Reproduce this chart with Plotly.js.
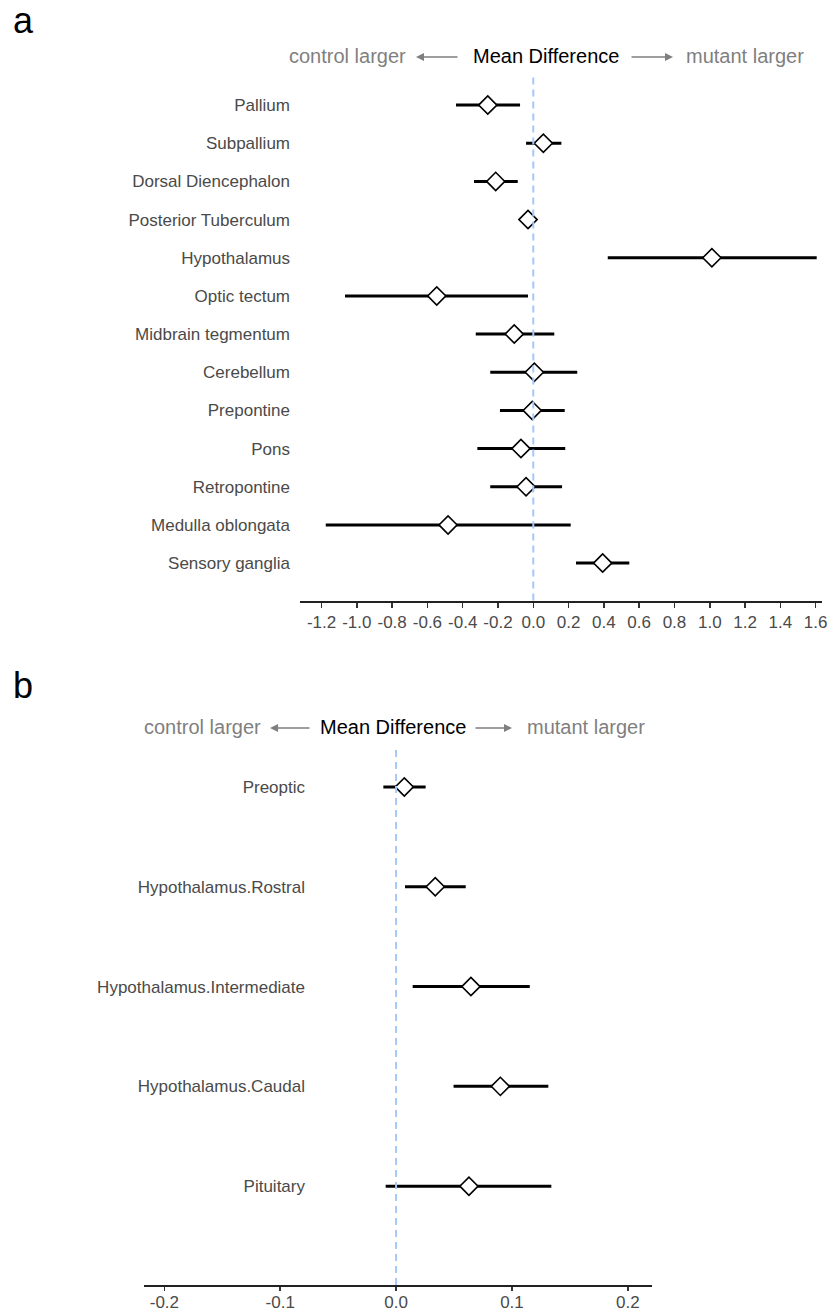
<!DOCTYPE html>
<html>
<head>
<meta charset="utf-8">
<script src="https://cdn.plot.ly/plotly-3.0.1.min.js"></script>
<style>
  html, body { margin: 0; padding: 0; background: #fff; }
  #chart { width: 837px; height: 1315px; }
</style>
</head>
<body>
<div id="chart"></div>
<script>
// ---------- Data ----------
const regions_a = ["Pallium", "Subpallium", "Dorsal Diencephalon", "Posterior Tuberculum",
  "Hypothalamus", "Optic tectum", "Midbrain tegmentum", "Cerebellum", "Prepontine",
  "Pons", "Retropontine", "Medulla oblongata", "Sensory ganglia"];
const mean_a = [-0.258, 0.057, -0.213, -0.030, 1.012, -0.547, -0.108, 0.006, -0.006, -0.070, -0.041, -0.483, 0.393];
const lo_a   = [-0.438, -0.041, -0.336, -0.070, 0.422, -1.067, -0.326, -0.244, -0.189, -0.317, -0.244, -1.176, 0.242];
const hi_a   = [-0.075, 0.159, -0.088, 0.005, 1.606, -0.030, 0.119, 0.249, 0.178, 0.181, 0.163, 0.212, 0.544];
const ticks_a = [-1.2, -1.0, -0.8, -0.6, -0.4, -0.2, 0.0, 0.2, 0.4, 0.6, 0.8, 1.0, 1.2, 1.4, 1.6];
const tick_labels_a = ["-1.2", "-1.0", "-0.8", "-0.6", "-0.4", "-0.2", "0.0", "0.2", "0.4", "0.6", "0.8", "1.0", "1.2", "1.4", "1.6"];

const regions_b = ["Preoptic", "Hypothalamus.Rostral", "Hypothalamus.Intermediate", "Hypothalamus.Caudal", "Pituitary"];
const mean_b = [0.0071, 0.0338, 0.0646, 0.0900, 0.0629];
const lo_b   = [-0.0110, 0.0077, 0.0143, 0.0496, -0.0090];
const hi_b   = [0.0255, 0.0601, 0.1154, 0.1314, 0.1340];
const ticks_b = [-0.2, -0.1, 0.0, 0.1, 0.2];
const tick_labels_b = ["-0.2", "-0.1", "0.0", "0.1", "0.2"];

const header_left = "control larger";
const header_mid = "Mean Difference";
const header_right = "mutant larger";

// ---------- Layout helpers ----------
const W = 837, H = 1315;
const px = v => v / W;
const py = v => 1 - v / H;
const FONT = "Liberation Sans, Arial, Helvetica, sans-serif";

function seriesTrace(regions, mean, lo, hi, xa, ya) {
  return {
    type: "scatter", mode: "markers",
    x: mean, y: regions, xaxis: xa, yaxis: ya,
    error_x: {
      type: "data", symmetric: false,
      array: hi.map((h, i) => h - mean[i]),
      arrayminus: lo.map((l, i) => mean[i] - l),
      color: "#000", thickness: 3, width: 0
    },
    marker: { symbol: "diamond", size: 14, color: "#fff", line: { color: "#000", width: 1.6 } },
    hoverinfo: "x+y", showlegend: false
  };
}

const data = [
  seriesTrace(regions_a, mean_a, lo_a, hi_a, "x", "y"),
  seriesTrace(regions_b, mean_b, lo_b, hi_b, "x2", "y2")
];

const xCommon = {
  showgrid: false, zeroline: false, showline: true, linecolor: "#222", linewidth: 2,
  ticks: "outside", ticklen: 5, tickwidth: 1.5, tickcolor: "#333",
  tickfont: { family: FONT, size: 17, color: "#4a4a4a" }, fixedrange: true
};
const yCommon = {
  type: "category", showgrid: false, zeroline: false, showline: false, ticks: "",
  tickfont: { family: FONT, size: 17, color: "#4a4a4a" }, anchor: "free", fixedrange: true
};

function header(yc, leftRight, arrow1Tip, arrow1Tail, midCenter, arrow2Tail, arrow2Tip, rightLeft) {
  const f = { family: FONT, size: 20 };
  return [
    { text: header_left, x: px(leftRight), y: py(yc), xref: "paper", yref: "paper",
      xanchor: "right", yanchor: "middle", showarrow: false, font: Object.assign({ color: "#7f7f7f" }, f) },
    { text: header_mid, x: px(midCenter), y: py(yc), xref: "paper", yref: "paper",
      xanchor: "center", yanchor: "middle", showarrow: false, font: Object.assign({ color: "#000" }, f) },
    { text: header_right, x: px(rightLeft), y: py(yc), xref: "paper", yref: "paper",
      xanchor: "left", yanchor: "middle", showarrow: false, font: Object.assign({ color: "#7f7f7f" }, f) },
    { text: "", x: px(arrow1Tip), y: py(yc + 1), xref: "paper", yref: "paper",
      showarrow: true, ax: arrow1Tail - arrow1Tip, ay: 0, arrowhead: 2, arrowsize: 1,
      arrowwidth: 1.6, arrowcolor: "#7f7f7f", standoff: 0, startstandoff: 0 },
    { text: "", x: px(arrow2Tip), y: py(yc + 1), xref: "paper", yref: "paper",
      showarrow: true, ax: arrow2Tail - arrow2Tip, ay: 0, arrowhead: 2, arrowsize: 1,
      arrowwidth: 1.6, arrowcolor: "#7f7f7f", standoff: 0, startstandoff: 0 }
  ];
}

const layout = {
  width: W, height: H,
  margin: { l: 0, r: 0, t: 0, b: 0 },
  paper_bgcolor: "#fff", plot_bgcolor: "#fff",
  font: { family: FONT },
  showlegend: false,
  xaxis: Object.assign({}, xCommon, {
    domain: [px(300), px(822)], anchor: "y", range: [-1.322, 1.636],
    tickmode: "array", tickvals: ticks_a, ticktext: tick_labels_a
  }),
  yaxis: Object.assign({}, yCommon, {
    domain: [py(600.5), py(73)], position: px(290),
    categoryorder: "array", categoryarray: regions_a, range: [12.98, -0.84]
  }),
  xaxis2: Object.assign({}, xCommon, {
    domain: [px(144), px(652)], anchor: "y2", range: [-0.2176, 0.2209],
    tickmode: "array", tickvals: ticks_b, ticktext: tick_labels_b,
    ticklen: 4, ticklabelstandoff: -3
  }),
  yaxis2: Object.assign({}, yCommon, {
    domain: [py(1285), py(748)], position: px(305),
    categoryorder: "array", categoryarray: regions_b, range: [4.99, -0.39]
  }),
  shapes: [
    { type: "line", xref: "x", yref: "y domain", x0: 0, x1: 0, y0: 0, y1: 1,
      line: { color: "#a4c8fa", width: 2, dash: "7px,5px" }, layer: "above" },
    { type: "line", xref: "x2", yref: "y2 domain", x0: 0, x1: 0, y0: 0, y1: 1,
      line: { color: "#a4c8fa", width: 2, dash: "7px,5px" }, layer: "above" }
  ],
  annotations: [
    { text: "a", x: px(11), y: py(20), xref: "paper", yref: "paper", xanchor: "left", yanchor: "middle",
      showarrow: false, font: { family: FONT, size: 36, color: "#000" } },
    { text: "b", x: px(11), y: py(686), xref: "paper", yref: "paper", xanchor: "left", yanchor: "middle",
      showarrow: false, font: { family: FONT, size: 36, color: "#000" } }
  ].concat(
    header(56, 408, 416, 459, 546, 630, 673, 684),
    header(727, 263, 270, 311, 393, 474, 512, 525)
  )
};

Plotly.newPlot("chart", data, layout, { displayModeBar: false, staticPlot: true });
</script>
</body>
</html>
